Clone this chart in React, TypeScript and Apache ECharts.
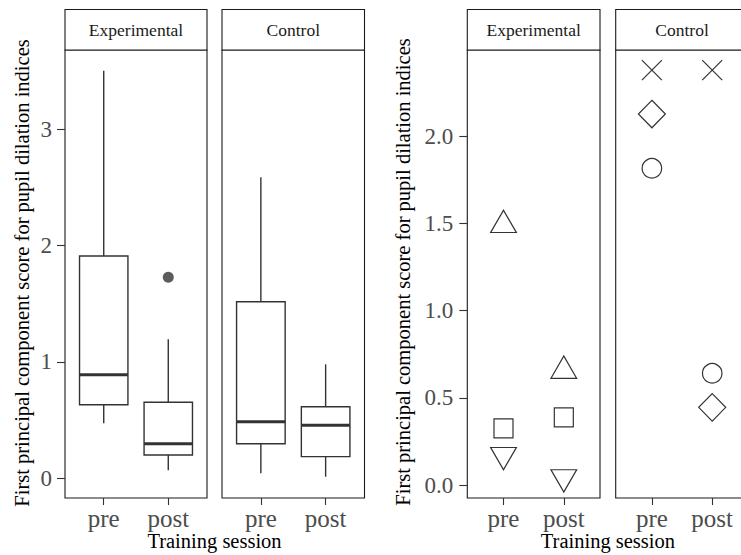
import { useEffect, useRef } from "react";
import * as echarts from "echarts";

const FONT = "Liberation Serif";

const sessions = ["pre", "post"];
const facets = ["Experimental", "Control"];

// Boxplot stats per session: [lower whisker, Q1, median, Q3, upper whisker]
const boxExperimental = [
  [0.472, 0.632, 0.89, 1.91, 3.5],
  [0.069, 0.2, 0.297, 0.653, 1.194],
];
const boxControl = [
  [0.043, 0.297, 0.486, 1.517, 2.586],
  [0.014, 0.186, 0.455, 0.615, 0.979],
];
// outliers: [session position, value]
const outliersExperimental = [[2, 1.727]];

const leftTicks = [0, 1, 2, 3];
const rightTicks = [0, 0.5, 1, 1.5, 2];

// Individual subjects, values for [pre, post]
const expTriangle = [1.49, 0.654];
const expSquare = [0.325, 0.388];
const expTriangleDown = [0.172, 0.045];
const ctlCross = [2.378, 2.378];
const ctlDiamond = [2.126, 0.445];
const ctlCircle = [1.815, 0.64];

const BOX_WIDTH = 0.75;

export default function App() {
  const ref = useRef<HTMLDivElement>(null);

  useEffect(() => {
    document.body.style.margin = "0";
    const chart = echarts.init(ref.current!, undefined, { renderer: "svg" });

    const grids = [
      { left: 65, top: 50, width: 142, height: 448 },
      { left: 222, top: 50, width: 142.5, height: 448 },
      { left: 467.3, top: 50, width: 132.7, height: 448 },
      { left: 615.7, top: 50, width: 132.7, height: 448 },
    ];

    const xAxes = grids.map((_, i) => ({
      type: "value",
      gridIndex: i,
      min: 0.4,
      max: 2.6,
      position: "bottom",
      axisLine: { show: false, onZero: false },
      splitLine: { show: false },
      axisTick: {
        show: true,
        customValues: [1, 2],
        length: 7,
        lineStyle: { color: "#333", width: 1.1 },
      },
      axisLabel: {
        show: true,
        customValues: [1, 2],
        formatter: (v: number) => sessions[Math.round(v) - 1] ?? "",
        fontSize: 25,
        fontFamily: FONT,
        color: "#4d4d4d",
        margin: 8,
      },
    }));

    const yRanges = [
      [-0.169, 3.679],
      [-0.169, 3.679],
      [-0.0745, 2.493],
      [-0.0745, 2.493],
    ];
    const yAxes = grids.map((_, i) => {
      const showLabels = i === 0 || i === 2;
      const ticks = i < 2 ? leftTicks : rightTicks;
      return {
        type: "value",
        gridIndex: i,
        min: yRanges[i][0],
        max: yRanges[i][1],
        position: "left",
        axisLine: { show: false, onZero: false },
        splitLine: { show: false },
        axisTick: {
          show: showLabels,
          customValues: ticks,
          length: 8,
          lineStyle: { color: "#333", width: 1.1 },
        },
        axisLabel: {
          show: showLabels,
          customValues: ticks,
          formatter: (v: number) => (i < 2 ? String(v) : v.toFixed(1)),
          fontSize: 23,
          fontFamily: FONT,
          color: "#4d4d4d",
          margin: i === 0 ? 13 : 14,
        },
      };
    });

    const boxRender = (params: any, api: any) => {
      const x = api.value(0);
      const lo = api.coord([x, api.value(1)]);
      const q1 = api.coord([x, api.value(2)]);
      const med = api.coord([x, api.value(3)]);
      const q3 = api.coord([x, api.value(4)]);
      const hi = api.coord([x, api.value(5)]);
      const half = api.size([BOX_WIDTH, 0])[0] / 2;
      const stroke = { stroke: "#333", lineWidth: 1.4, fill: "none" };
      return {
        type: "group",
        children: [
          { type: "line", shape: { x1: lo[0], y1: lo[1], x2: q1[0], y2: q1[1] }, style: stroke },
          { type: "line", shape: { x1: q3[0], y1: q3[1], x2: hi[0], y2: hi[1] }, style: stroke },
          {
            type: "rect",
            shape: { x: q3[0] - half, y: q3[1], width: half * 2, height: q1[1] - q3[1] },
            style: { stroke: "#333", lineWidth: 1.4, fill: "#fff" },
          },
          {
            type: "line",
            shape: { x1: med[0] - half, y1: med[1], x2: med[0] + half, y2: med[1] },
            style: { stroke: "#333", lineWidth: 3 },
          },
        ],
      };
    };

    const toBoxData = (stats: number[][]) => stats.map((s, k) => [k + 1, ...s]);
    const pairs = (vals: number[]) => vals.map((v, k) => [k + 1, v]);

    const hollow = { color: "rgba(0,0,0,0)", borderColor: "#000", borderWidth: 1.2 };

    const scatter = (grid: number, vals: number[], symbol: string, size: any, offset?: number[]) => ({
      type: "scatter",
      xAxisIndex: grid,
      yAxisIndex: grid,
      data: pairs(vals),
      symbol,
      symbolSize: size,
      symbolOffset: offset ?? [0, 0],
      itemStyle: hollow,
      silent: true,
    });

    const series: any[] = [
      {
        type: "custom",
        xAxisIndex: 0,
        yAxisIndex: 0,
        data: toBoxData(boxExperimental),
        encode: { x: 0, y: [1, 2, 3, 4, 5] },
        renderItem: boxRender,
      },
      {
        type: "custom",
        xAxisIndex: 1,
        yAxisIndex: 1,
        data: toBoxData(boxControl),
        encode: { x: 0, y: [1, 2, 3, 4, 5] },
        renderItem: boxRender,
      },
      {
        type: "scatter",
        xAxisIndex: 0,
        yAxisIndex: 0,
        data: outliersExperimental,
        symbol: "circle",
        symbolSize: 11,
        itemStyle: { color: "#333" },
      },
      scatter(2, expTriangle, "triangle", [25.7, 22.3], [0, -3.7]),
      scatter(2, expSquare, "rect", 19),
      scatter(2, expTriangleDown, "path://M0,0L25.7,0L12.85,22.3Z", [25.7, 22.3], [0, 3.7]),
      scatter(3, ctlCross, "path://M0,0L20,20M20,0L0,20", 20),
      scatter(3, ctlDiamond, "diamond", [27, 27.5]),
      scatter(3, ctlCircle, "circle", 19.5),
    ];

    const graphic: any[] = [];
    grids.forEach((g, i) => {
      graphic.push({
        type: "rect",
        shape: { x: g.left, y: 9.5, width: g.width, height: 40.5 },
        style: { fill: "#fff", stroke: "#1a1a1a", lineWidth: 1.1 },
      });
      graphic.push({
        type: "text",
        x: g.left + g.width / 2,
        y: 29.8,
        style: {
          text: facets[i % 2],
          fontSize: 17.5,
          fontFamily: FONT,
          fill: "#1a1a1a",
          align: "center",
          verticalAlign: "middle",
        },
      });
    });
    const titleStyle = { fontSize: 20.5, fontFamily: FONT, fill: "#000", align: "center", verticalAlign: "middle" };
    graphic.push(
      { type: "text", x: 214.5, y: 541, style: { ...titleStyle, text: "Training session" } },
      { type: "text", x: 607.9, y: 541, style: { ...titleStyle, text: "Training session" } },
      {
        type: "text",
        x: 22,
        y: 273,
        rotation: Math.PI / 2,
        style: { ...titleStyle, text: "First principal component score for pupil dilation indices" },
      },
      {
        type: "text",
        x: 403,
        y: 272,
        rotation: Math.PI / 2,
        style: { ...titleStyle, text: "First principal component score for pupil dilation indices" },
      }
    );

    chart.setOption({
      animation: false,
      backgroundColor: "#fff",
      grid: grids.map((g) => ({
        ...g,
        show: true,
        borderColor: "#1a1a1a",
        borderWidth: 1.1,
        backgroundColor: "#fff",
        outerBoundsMode: "none",
        containLabel: false,
      })),
      xAxis: xAxes,
      yAxis: yAxes,
      series,
      graphic,
    } as any);

    return () => chart.dispose();
  }, []);

  return (
    <div
      ref={ref}
      style={{ position: "fixed", left: 0, top: 0, width: 741, height: 555 }}
    />
  );
}
